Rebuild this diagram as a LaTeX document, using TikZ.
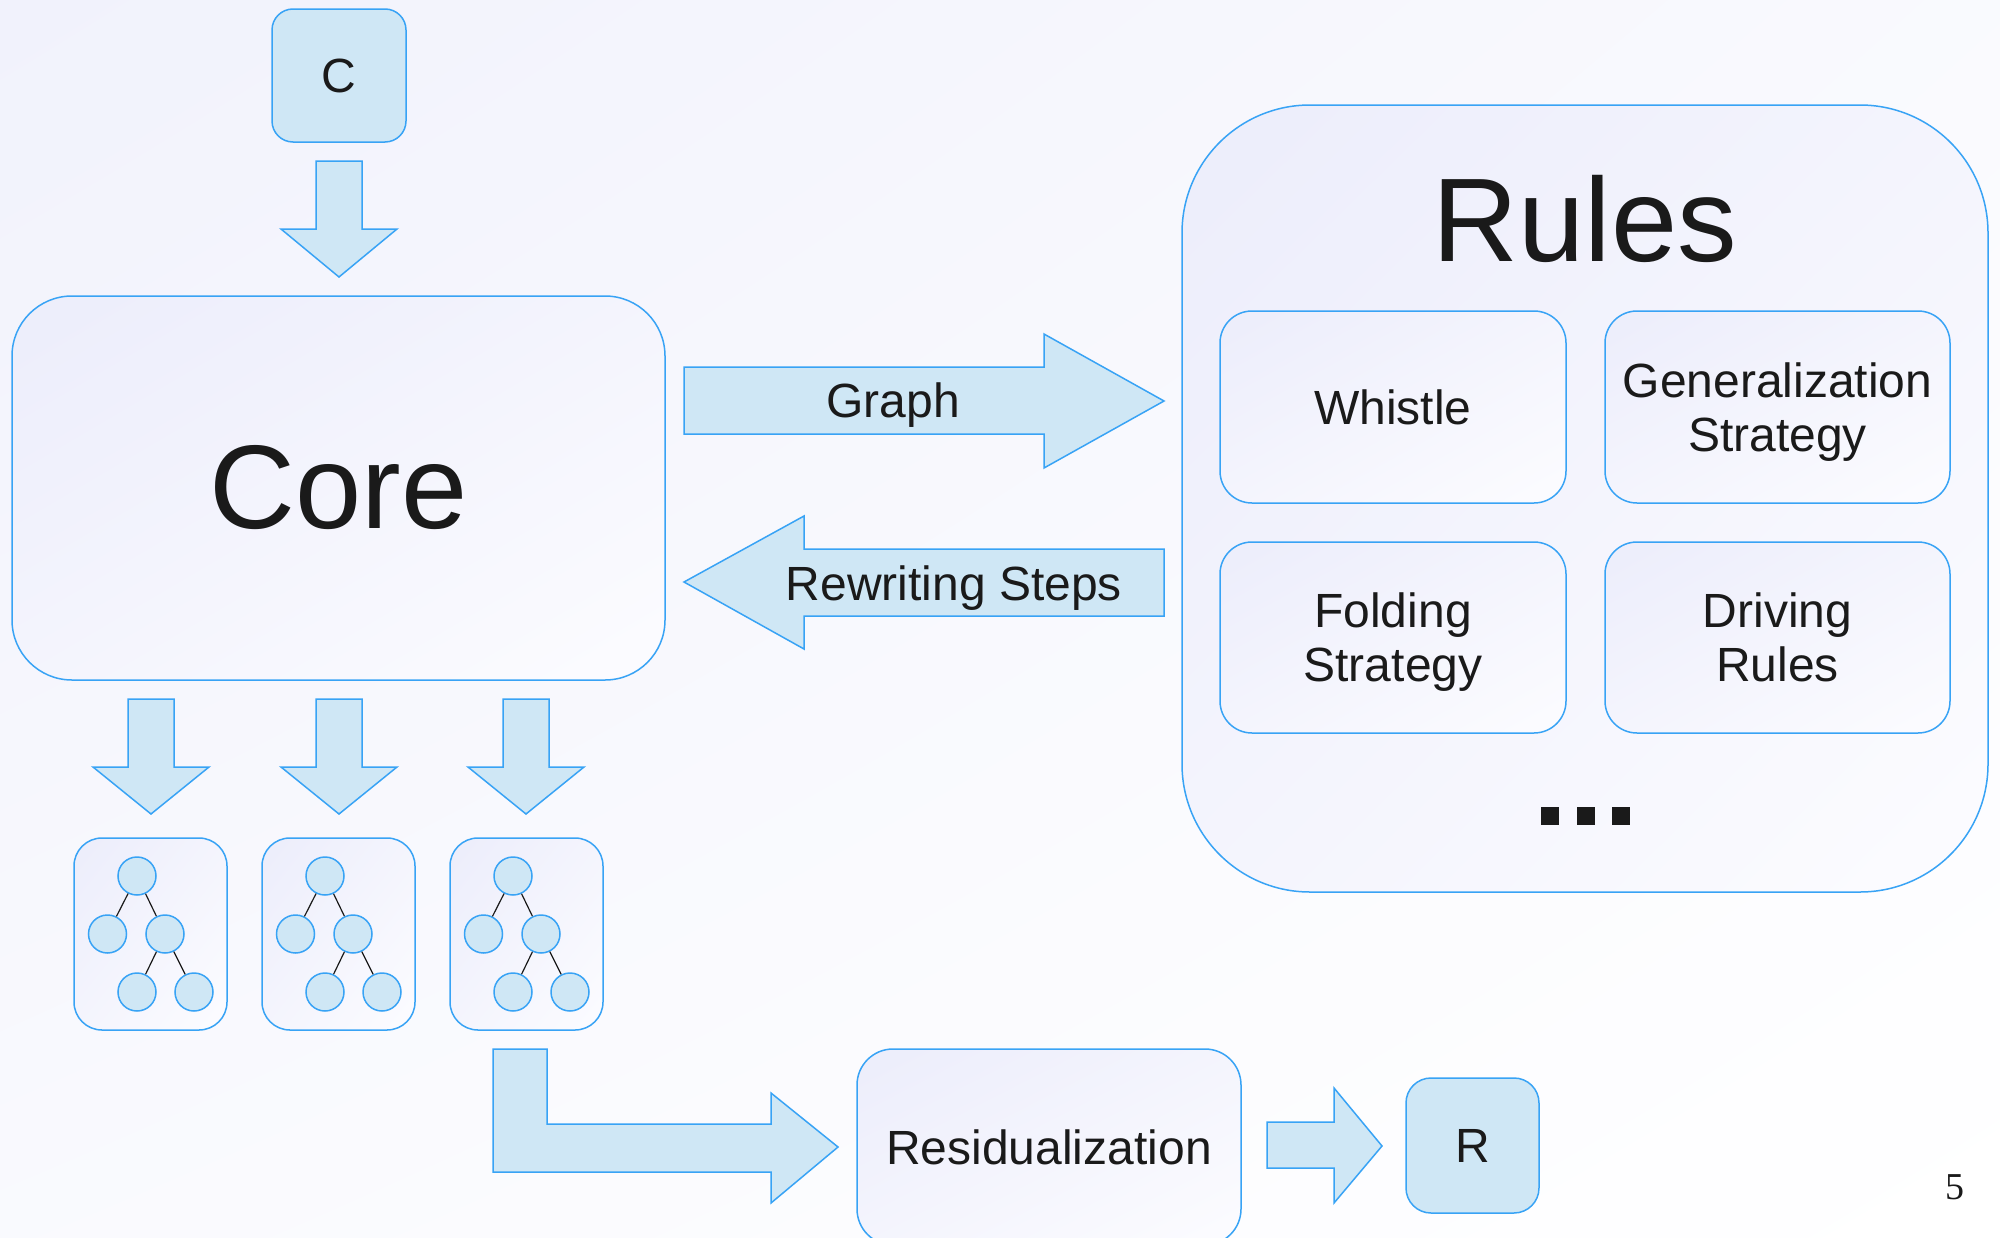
\documentclass[tikz,border=0pt]{standalone}
\usepackage{fontspec}
\setmainfont{Liberation Sans}
\newfontfamily\numfont{Liberation Serif}
\usetikzlibrary{calc,shadings}
\definecolor{pale}{RGB}{207,231,245}
\definecolor{edgeblue}{RGB}{56,163,245}
\definecolor{ink}{RGB}{26,26,26}
\definecolor{boxA}{RGB}{236,237,251}
\definecolor{boxB}{RGB}{252,252,255}
\definecolor{bgA}{RGB}{241,242,252}
\tikzset{
  softbox/.style={draw=edgeblue, line width=1.5pt, shade,
    upper left=boxA, upper right=boxA!50!boxB, lower left=boxA!50!boxB, lower right=boxB,
    text=ink, align=center, inner sep=0pt},
  bluebox/.style={draw=edgeblue, line width=1.5pt, fill=pale, text=ink, inner sep=0pt},
  fatarrow/.style={draw=edgeblue, line width=1.5pt, fill=pale, line join=miter},
  leaf/.style={circle, draw=edgeblue, line width=1.5pt, fill=pale, minimum size=38pt, inner sep=0pt},
  branch/.style={draw=ink, line width=1.2pt},
  midtext/.style={font=\fontsize{48}{54}\selectfont, text=ink, align=center, text depth=0pt},
  bigtext/.style={font=\fontsize{119}{130}\selectfont, text=ink},
}
% a small binary tree inside a rounded frame, centred at (#2,#3)
\newcommand\treebox[3]{%
  \node[softbox, minimum width=153pt, minimum height=192pt, rounded corners=28pt] (#1) at (#2,#3) {};
  \node[leaf] (#1r) at ($(#2,#3)+(-13.5,-58)$) {};
  \node[leaf] (#1a) at ($(#2,#3)+(-43,0)$) {};
  \node[leaf] (#1b) at ($(#2,#3)+(14.5,0)$) {};
  \node[leaf] (#1c) at ($(#2,#3)+(-13.5,58)$) {};
  \node[leaf] (#1d) at ($(#2,#3)+(43.5,58)$) {};
  \draw[branch] (#1r) -- (#1a);
  \draw[branch] (#1r) -- (#1b);
  \draw[branch] (#1b) -- (#1c);
  \draw[branch] (#1b) -- (#1d);
}
% downward block arrow: centre x, top, head base, tip
\newcommand\dropfat[4]{%
  \draw[fatarrow] (#1-23,#2) -- (#1+23,#2) -- (#1+23,#3) -- (#1+58,#3) -- (#1,#4)
    -- (#1-58,#3) -- (#1-23,#3) -- cycle;
}
\begin{document}
\begin{tikzpicture}[x=1pt,y=-1pt]
\clip (0,0) rectangle (2000,1237);
\shade[upper left=bgA, upper right=bgA!40!white, lower left=bgA!40!white, lower right=white]
  (0,0) rectangle (2000,1237);

% input and core
\node[bluebox, minimum width=134pt, minimum height=133pt, rounded corners=21pt,
  font=\fontsize{48}{54}\selectfont] (C) at (339,75.5) {C};
\draw[fatarrow] (316,161) -- (362,161) -- (362,229) -- (397,229) -- (339,277)
  -- (281,229) -- (316,229) -- cycle;
\node[softbox, minimum width=653pt, minimum height=384pt, rounded corners=60pt,
  bigtext] (core) at (338.5,488) {Core};

% rule set
\node[softbox, minimum width=806pt, minimum height=787pt, rounded corners=128pt] (rules) at (1585,498.5) {};
\node[bigtext, anchor=base] (rulestitle) at (1585,261) {Rules};
\node[softbox, midtext, minimum width=346pt, minimum height=192pt, rounded corners=32pt] (whistle) at (1393,407) {Whistle};
\node[softbox, midtext, minimum width=345pt, minimum height=192pt, rounded corners=32pt] (gen) at (1777.5,407) {Generalization\\Strategy};
\node[softbox, midtext, minimum width=346pt, minimum height=191pt, rounded corners=32pt] (fold) at (1393,637.5) {Folding\\Strategy};
\node[softbox, midtext, minimum width=345pt, minimum height=191pt, rounded corners=32pt] (drive) at (1777.5,637.5) {Driving\\Rules};
\foreach \x in {1541,1577,1612} \fill[ink] (\x,807) rectangle ++(18,18);

% exchange between core and rules
\draw[fatarrow] (684,367) -- (1044,367) -- (1044,334) -- (1164,401) -- (1044,468)
  -- (1044,434) -- (684,434) -- cycle;
\node[midtext] (graph) at (893,400) {Graph};
\draw[fatarrow] (1164,549) -- (804,549) -- (804,516) -- (684,582) -- (804,649)
  -- (804,616) -- (1164,616) -- cycle;
\node[midtext] (rewrite) at (954,583) {Rewriting Steps};

% produced trees
\dropfat{151}{699}{767}{814}
\dropfat{339}{699}{767}{814}
\dropfat{526}{699}{767}{814}
\treebox{ta}{150.5}{934}
\treebox{tb}{338.5}{934}
\treebox{tc}{526.5}{934}

% residualization
\draw[fatarrow] (493,1049) -- (547,1049) -- (547,1124) -- (771,1124) -- (771,1093)
  -- (838,1147) -- (771,1203) -- (771,1172) -- (493,1172) -- cycle;
\node[softbox, midtext, minimum width=384pt, minimum height=196pt, rounded corners=36pt] (resid) at (1049,1147) {Residualization};
\draw[fatarrow] (1267,1122) -- (1334,1122) -- (1334,1088) -- (1382,1146) -- (1334,1203)
  -- (1334,1168) -- (1267,1168) -- cycle;
\node[bluebox, minimum width=133pt, minimum height=135pt, rounded corners=25pt,
  font=\fontsize{48}{54}\selectfont] (R) at (1472.5,1145.5) {R};

\node[font=\numfont\fontsize{38}{40}\selectfont, text=ink] (page) at (1955,1187) {5};
\end{tikzpicture}
\end{document}
